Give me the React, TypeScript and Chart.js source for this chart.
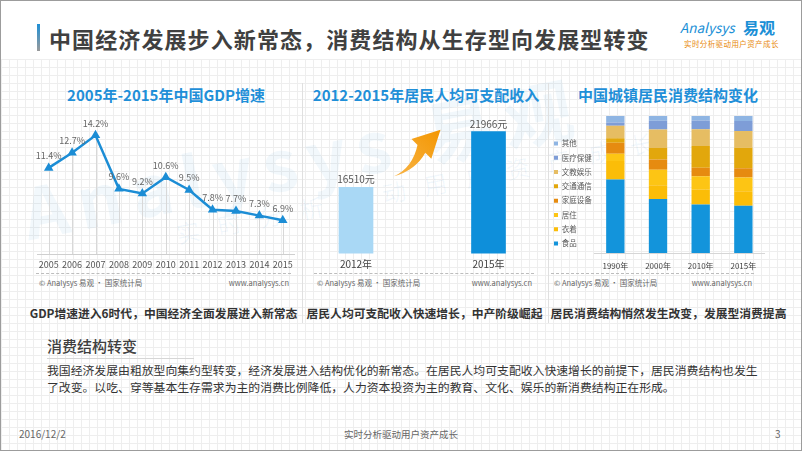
import React, { useEffect, useRef } from "react";
import { Chart, registerables } from "chart.js";

Chart.register(...registerables);

const FONT = '"Noto Sans CJK SC", "Noto Sans", sans-serif';

// ---- data ----
const gdpYears = ["2005", "2006", "2007", "2008", "2009", "2010", "2011", "2012", "2013", "2014", "2015"];
const gdpGrowth = [11.4, 12.7, 14.2, 9.6, 9.2, 10.6, 9.5, 7.8, 7.7, 7.3, 6.9];

const incomeYears = ["2012年", "2015年"];
const incomeValues = [16510, 21966];

const structYears = ["1990年", "2000年", "2010年", "2015年"];
const structNames = ["食品", "衣着", "居住", "家庭设备", "交通通信", "文教娱乐", "医疗保健", "其他"];
const foodShare = [53.7, 39.4, 35.4, 34.5];
const clothingShare = [13.4, 10.0, 10.7, 10.5];
const housingShare = [5.4, 11.3, 10.0, 10.1];
const householdShare = [8.0, 7.5, 6.1, 6.8];
const transportShare = [3.3, 8.5, 15.9, 15.0];
const educationShare = [9.0, 13.4, 12.2, 12.2];
const medicalShare = [2.5, 6.4, 6.5, 7.2];
const otherShare = [4.7, 3.5, 3.2, 3.7];

const structSeries = [foodShare, clothingShare, housingShare, householdShare, transportShare, educationShare, medicalShare, otherShare];
const structColors = ["#1394db", "#fbbd08", "#fdc514", "#e68b10", "#e2a70c", "#e6bd63", "#7e9dd7", "#8fb5e3"];

function GdpChart() {
  const ref = useRef<HTMLCanvasElement>(null);
  useEffect(() => {
    const dropLines = {
      id: "dropLines",
      beforeDatasetsDraw(chart: any) {
        const { ctx, chartArea } = chart;
        const meta = chart.getDatasetMeta(0);
        ctx.save();
        ctx.strokeStyle = "#d8d8d8";
        ctx.lineWidth = 1;
        meta.data.forEach((p: any) => {
          const x = Math.round(p.x) + 0.5;
          ctx.beginPath();
          ctx.moveTo(x, p.y);
          ctx.lineTo(x, chartArea.bottom);
          ctx.stroke();
        });
        ctx.restore();
      },
    };
    const valueLabels = {
      id: "valueLabels",
      afterDatasetsDraw(chart: any) {
        const { ctx } = chart;
        const meta = chart.getDatasetMeta(0);
        ctx.save();
        ctx.font = `9px ${FONT}`;
        ctx.fillStyle = "#666";
        ctx.textAlign = "center";
        ctx.textBaseline = "middle";
        meta.data.forEach((p: any, i: number) => {
          ctx.fillText(gdpGrowth[i].toFixed(1) + "%", p.x, p.y - 12);
        });
        ctx.restore();
      },
    };
    const chart = new Chart(ref.current!, {
      type: "line",
      data: {
        labels: gdpYears,
        datasets: [
          {
            data: gdpGrowth,
            borderColor: "#1c8dd5",
            backgroundColor: "#1c8dd5",
            borderWidth: 2.5,
            pointStyle: "triangle",
            pointRadius: 3,
            tension: 0,
          },
        ],
      },
      options: {
        animation: false,
        responsive: false,
        maintainAspectRatio: false,
        layout: { padding: { left: 16, right: 5, top: 13.4, bottom: 0 } },
        plugins: { legend: { display: false }, tooltip: { enabled: false } },
        scales: {
          x: {
            offset: true,
            grid: { display: false, drawTicks: false },
            border: { display: true, color: "#cfcfcf" },
            ticks: { font: { family: FONT, size: 9 }, color: "#555", padding: 5, maxRotation: 0, autoSkip: false },
            afterFit: (s: any) => {
              s.height = 17;
            },
          },
          y: { display: false, min: 4, max: 16 },
        },
      },
      plugins: [dropLines, valueLabels],
    } as any);
    return () => chart.destroy();
  }, []);
  return (
    <canvas ref={ref} width={280} height={170} style={{ position: "absolute", left: 20, top: 100, width: 280, height: 170 }} />
  );
}

function IncomeChart() {
  const ref = useRef<HTMLCanvasElement>(null);
  useEffect(() => {
    const deco = {
      id: "deco",
      afterDatasetsDraw(chart: any) {
        const { ctx } = chart;
        const meta = chart.getDatasetMeta(0);
        const a = meta.data[0];
        const b = meta.data[1];
        ctx.save();
        ctx.font = `10px ${FONT}`;
        ctx.fillStyle = "#555";
        ctx.textAlign = "center";
        ctx.textBaseline = "middle";
        meta.data.forEach((p: any, i: number) => {
          ctx.fillText(incomeValues[i] + "元", p.x, p.y - 8);
        });
        // arrow between the two bars
        const tail = { x: a.x + 38, y: a.y - 11 };
        const tip = { x: b.x - 48, y: b.y - 2 };
        const dx = tip.x - tail.x;
        const dy = tip.y - tail.y;
        const len = Math.hypot(dx, dy);
        const ux = dx / len;
        const uy = dy / len;
        const nx = -uy;
        const ny = ux;
        const headLen = 27;
        const headHalf = 14;
        const shaftHalf = 5.5;
        const hx = tip.x - headLen * ux;
        const hy = tip.y - headLen * uy;
        const mx = (tail.x + hx) / 2;
        const my = (tail.y + hy) / 2;
        const bend = 7;
        const grad = ctx.createLinearGradient(tail.x, tail.y, tip.x, tip.y);
        grad.addColorStop(0, "#f8b447");
        grad.addColorStop(1, "#f39600");
        ctx.fillStyle = grad;
        ctx.beginPath();
        ctx.moveTo(tail.x, tail.y);
        ctx.quadraticCurveTo(mx + (bend + 4) * nx, my + (bend + 4) * ny, hx + shaftHalf * nx, hy + shaftHalf * ny);
        ctx.lineTo(hx + headHalf * nx, hy + headHalf * ny);
        ctx.lineTo(tip.x, tip.y);
        ctx.lineTo(hx - headHalf * nx, hy - headHalf * ny);
        ctx.lineTo(hx - shaftHalf * nx, hy - shaftHalf * ny);
        ctx.quadraticCurveTo(mx + bend * nx, my + bend * ny, tail.x, tail.y);
        ctx.closePath();
        ctx.fill();
        ctx.restore();
      },
    };
    const chart = new Chart(ref.current!, {
      type: "bar",
      data: {
        labels: incomeYears,
        datasets: [
          {
            data: incomeValues,
            backgroundColor: ["#a9d8f5", "#0e8fda"],
            barThickness: 34,
          },
        ],
      },
      options: {
        animation: false,
        responsive: false,
        maintainAspectRatio: false,
        layout: { padding: { left: 8.75, right: 6.25, top: 10, bottom: 0 } },
        plugins: { legend: { display: false }, tooltip: { enabled: false } },
        scales: {
          x: {
            grid: { display: false, drawTicks: false },
            border: { display: false },
            ticks: { font: { family: FONT, size: 10 }, color: "#444", padding: 5, maxRotation: 0 },
            afterFit: (s: any) => {
              s.height = 17.5;
            },
          },
          y: { display: false, min: 10000, max: 24000 },
        },
      },
      plugins: [deco],
    } as any);
    return () => chart.destroy();
  }, []);
  return (
    <canvas ref={ref} width={280} height={170} style={{ position: "absolute", left: 280, top: 100, width: 280, height: 170 }} />
  );
}

function StructureChart() {
  const ref = useRef<HTMLCanvasElement>(null);
  useEffect(() => {
    const chart = new Chart(ref.current!, {
      type: "bar",
      data: {
        labels: structYears,
        datasets: structSeries.map((s, i) => ({
          label: structNames[i],
          data: s,
          backgroundColor: structColors[i],
          barPercentage: 0.43,
          categoryPercentage: 1,
        })),
      },
      options: {
        animation: false,
        responsive: false,
        maintainAspectRatio: false,
        layout: { padding: { left: 6.2, right: 26.3, top: 15, bottom: 0 } },
        plugins: {
          tooltip: { enabled: false },
          legend: {
            position: "left",
            align: "center",
            reverse: true,
            maxWidth: 46.8,
            labels: {
              boxWidth: 4,
              boxHeight: 4,
              padding: 6.8,
              color: "#595959",
              font: { family: FONT, size: 7.5 },
            },
          },
        },
        scales: {
          x: {
            stacked: true,
            grid: { display: false, drawTicks: false },
            border: { display: true, color: "#d6d6d6" },
            ticks: { font: { family: FONT, size: 8 }, color: "#444", padding: 8, maxRotation: 0 },
            afterFit: (s: any) => {
              s.height = 18;
            },
          },
          y: { stacked: true, display: false, min: 0, max: 100 },
        },
      },
    } as any);
    return () => chart.destroy();
  }, []);
  return (
    <canvas ref={ref} width={250} height={170} style={{ position: "absolute", left: 540, top: 100, width: 250, height: 170 }} />
  );
}

const abs = (s: React.CSSProperties): React.CSSProperties => ({ position: "absolute", whiteSpace: "nowrap", ...s });

function Source({ left, right }: { left: number; right: number }) {
  return (
    <>
      <div style={abs({ left, top: 272, width: right - left, height: 0, borderTop: "1px dashed #bdbdbd" })} />
      <div style={abs({ left: left + 3, top: 276, fontSize: 7.5, lineHeight: "12px", color: "#666" })}>© Analysys 易观 · 国家统计局</div>
      <div style={abs({ left: right - 120, width: 118, textAlign: "right", top: 276, fontSize: 7.5, lineHeight: "12px", color: "#666" })}>
        www.analysys.cn
      </div>
    </>
  );
}

export default function App() {
  return (
    <div
      style={{
        position: "absolute",
        left: 0,
        top: 0,
        width: 802,
        height: 451,
        boxSizing: "border-box",
        border: "1px solid #9c9c9c",
        background: "#fff",
        overflow: "hidden",
        fontFamily: FONT,
      }}
    >
      {/* grid background */}
      <div
        style={abs({
          left: 0,
          top: 58,
          right: 0,
          bottom: 0,
          backgroundImage:
            "linear-gradient(#eeeeee 1px, transparent 1px), linear-gradient(90deg, #eeeeee 1px, transparent 1px)",
          backgroundSize: "8px 8px",
        })}
      />
      {/* watermark */}
      <div
        style={abs({
          left: 22,
          top: 172,
          fontSize: 70,
          lineHeight: "76px",
          letterSpacing: 10,
          color: "rgba(40,140,210,0.06)",
          fontWeight: 700,
          transform: "rotate(-11deg)",
          transformOrigin: "left center",
        })}
      >
        Analysys 易观
      </div>
      <div
        style={abs({
          left: 175,
          top: 218,
          fontSize: 24,
          lineHeight: "30px",
          letterSpacing: 18,
          color: "rgba(40,140,210,0.06)",
          transform: "rotate(-11deg)",
          transformOrigin: "left center",
        })}
      >
        实时分析驱动用户资产成长
      </div>

      {/* header */}
      <div style={abs({ left: 36, top: 23, width: 2.5, height: 27, background: "linear-gradient(#1e90d6, #9a9a9a)" })} />
      <div style={abs({ left: 48, top: 24, fontSize: 22, lineHeight: "26px", fontWeight: 700, color: "#404040", letterSpacing: 1.1 })}>
        中国经济发展步入新常态，消费结构从生存型向发展型转变
      </div>
      <div style={abs({ left: 679, top: 17, fontSize: 13.5, lineHeight: "18px", fontStyle: "italic", color: "#1a8fd6" })}>Analysys</div>
      <div style={abs({ left: 742, top: 16, fontSize: 16, lineHeight: "20px", fontWeight: 700, color: "#1a8fd6" })}>易观</div>
      <div style={abs({ left: 683, top: 38, fontSize: 7.5, lineHeight: "10px", color: "#e8890c", letterSpacing: 0.4 })}>
        实时分析驱动用户资产成长
      </div>

      {/* dividers */}
      <div style={abs({ left: 301, top: 82, width: 1, height: 240, background: "#e0e0e0" })} />
      <div style={abs({ left: 547, top: 82, width: 1, height: 240, background: "#e0e0e0" })} />

      {/* panel titles */}
      <div style={abs({ left: 15, width: 300, top: 85, textAlign: "center", fontSize: 15, lineHeight: "18px", fontWeight: 700, color: "#1f8fd8" })}>
        2005年-2015年中国GDP增速
      </div>
      <div style={abs({ left: 275, width: 300, top: 85, textAlign: "center", fontSize: 15, lineHeight: "18px", fontWeight: 700, color: "#1f8fd8" })}>
        2012-2015年居民人均可支配收入
      </div>
      <div style={abs({ left: 517, width: 300, top: 85, textAlign: "center", fontSize: 15, lineHeight: "18px", fontWeight: 700, color: "#1f8fd8" })}>
        中国城镇居民消费结构变化
      </div>

      <GdpChart />
      <IncomeChart />
      <StructureChart />

      <Source left={35} right={290} />
      <Source left={313} right={533} />
      <Source left={550} right={753} />

      {/* conclusions */}
      <div style={abs({ left: 12.5, width: 300, top: 304, textAlign: "center", fontSize: 11.8, lineHeight: "16px", fontWeight: 700, color: "#333" })}>
        GDP增速进入6时代，中国经济全面发展进入新常态
      </div>
      <div style={abs({ left: 273.5, width: 300, top: 304, textAlign: "center", fontSize: 11.8, lineHeight: "16px", fontWeight: 700, color: "#333" })}>
        居民人均可支配收入快速增长，中产阶级崛起
      </div>
      <div style={abs({ left: 517.5, width: 300, top: 304, textAlign: "center", fontSize: 11.8, lineHeight: "16px", fontWeight: 700, color: "#333" })}>
        居民消费结构悄然发生改变，发展型消费提高
      </div>

      <div style={abs({ left: 46, top: 335, fontSize: 15, lineHeight: "19px", fontWeight: 500, color: "#404040" })}>消费结构转变</div>
      <div style={abs({ left: 46, top: 357, width: 147, height: 1, background: "#d6d6d6" })} />
      <div style={abs({ left: 46, top: 361, fontSize: 11.85, lineHeight: "16.5px", color: "#333" })}>
        我国经济发展由粗放型向集约型转变，经济发展进入结构优化的新常态。在居民人均可支配收入快速增长的前提下，居民消费结构也发生
        <br />
        了改变。以吃、穿等基本生存需求为主的消费比例降低，人力资本投资为主的教育、文化、娱乐的新消费结构正在形成。
      </div>

      {/* footer */}
      <div style={abs({ left: 18, top: 426, fontSize: 10, lineHeight: "13px", color: "#666" })}>2016/12/2</div>
      <div style={abs({ left: 250, width: 300, top: 427, textAlign: "center", fontSize: 9.5, lineHeight: "13px", color: "#666" })}>
        实时分析驱动用户资产成长
      </div>
      <div style={abs({ left: 774, top: 426, fontSize: 10, lineHeight: "13px", color: "#666" })}>3</div>
    </div>
  );
}
